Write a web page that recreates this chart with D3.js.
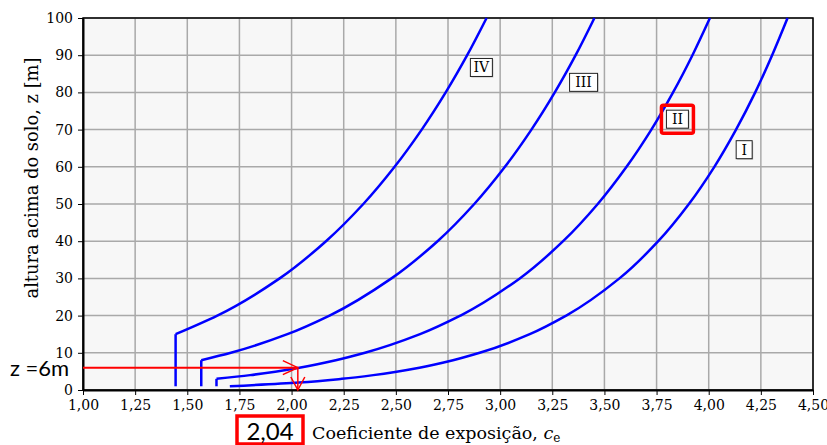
<!DOCTYPE html>
<html>
<head>
<meta charset="utf-8">
<script src="https://cdn.jsdelivr.net/npm/d3@7"></script>
<style>
  body { margin: 0; background: #fff; }
  .axis text { font-family: "DejaVu Serif", serif; font-size: 14px; fill: #000; }
  .axis path, .axis line { stroke: #000; }
</style>
</head>
<body>
<div id="painting"></div>
<script>
// terrain categories and curves (z in m, ce)
var catNames = ["I", "II", "III", "IV"];
var zI   = [1, 2, 3, 4, 6, 8, 10, 15, 20, 30, 40, 50, 60, 70, 80, 90, 100];
var ceI  = [1.704, 2.036, 2.241, 2.392, 2.613, 2.774, 2.902, 3.142, 3.317, 3.572, 3.758, 3.905, 4.027, 4.131, 4.223, 4.304, 4.378];
var zII  = [3, 4, 6, 8, 10, 15, 20, 30, 40, 50, 60, 70, 80, 90, 100];
var ceII = [1.640, 1.801, 2.037, 2.212, 2.352, 2.616, 2.810, 3.094, 3.302, 3.468, 3.606, 3.725, 3.829, 3.922, 4.006];
var zIII  = [8, 10, 15, 20, 30, 40, 50, 60, 70, 80, 90, 100];
var ceIII = [1.567, 1.709, 1.980, 2.182, 2.479, 2.700, 2.876, 3.023, 3.150, 3.262, 3.362, 3.452];
var zIV  = [15, 20, 30, 40, 50, 60, 70, 80, 90, 100];
var ceIV = [1.444, 1.644, 1.943, 2.165, 2.344, 2.494, 2.624, 2.739, 2.842, 2.935];
var zGround = 1;

// label boxes (data units)
var labelCe = [4.17, 3.85, 3.40, 2.91];
var labelZ  = [64.6, 72.8, 82.7, 86.7];
var highlighted = "II";

// the worked example
var annotZ = 6;
var annotCe = 2.03;
var annotZText = "z =6m";
var annotCeText = "2,04";

var xTicks = [1.00, 1.25, 1.50, 1.75, 2.00, 2.25, 2.50, 2.75, 3.00, 3.25, 3.50, 3.75, 4.00, 4.25, 4.50];
var yTicks = [0, 10, 20, 30, 40, 50, 60, 70, 80, 90, 100];

var W = 827, H = 445;
var margin = {top: 18, right: 14, bottom: 55, left: 83};
var w = W - margin.left - margin.right;
var h = H - margin.top - margin.bottom;

var svg = d3.select("#painting").append("svg")
  .attr("width", W).attr("height", H);

var g = svg.append("g")
  .attr("transform", "translate(" + margin.left + "," + margin.top + ")");

var x = d3.scaleLinear().domain([1, 4.5]).range([0, w]);
var y = d3.scaleLinear().domain([0, 100]).range([h, 0]);

g.append("rect").attr("width", w).attr("height", h).attr("fill", "#f7f7f7");

// grid
g.append("g").selectAll("line").data(xTicks).enter().append("line")
  .attr("x1", function(d) { return x(d); }).attr("x2", function(d) { return x(d); })
  .attr("y1", 0).attr("y2", h)
  .attr("stroke", "#a9a9a9").attr("stroke-width", 1.5);
g.append("g").selectAll("line").data(yTicks).enter().append("line")
  .attr("y1", function(d) { return y(d); }).attr("y2", function(d) { return y(d); })
  .attr("x1", 0).attr("x2", w)
  .attr("stroke", "#a9a9a9").attr("stroke-width", 1.5);

// frame top/right
g.append("rect").attr("width", w).attr("height", h)
  .attr("fill", "none").attr("stroke", "#000").attr("stroke-width", 1.5);

var fmt = function(d) { return d3.format(".2f")(d).replace(".", ","); };

g.append("g").attr("class", "axis")
  .attr("transform", "translate(0," + h + ")")
  .call(d3.axisBottom(x).tickValues(xTicks).tickFormat(fmt).tickSize(5).tickPadding(5).tickSizeOuter(0))
  .call(function(a) { a.select(".domain").attr("stroke-width", 2); });

g.append("g").attr("class", "axis")
  .call(d3.axisLeft(y).tickValues(yTicks).tickSize(5).tickPadding(5).tickSizeOuter(0))
  .call(function(a) { a.select(".domain").attr("stroke-width", 2); });

// curves
var curves = [
  {name: "I", z: zI, ce: ceI},
  {name: "II", z: zII, ce: ceII},
  {name: "III", z: zIII, ce: ceIII},
  {name: "IV", z: zIV, ce: ceIV}
];

var straight = d3.line().x(function(d) { return x(d[0]); }).y(function(d) { return y(d[1]); });
var smooth = d3.line().x(function(d) { return x(d[0]); }).y(function(d) { return y(d[1]); })
  .curve(d3.curveMonotoneY);

curves.forEach(function(c) {
  var pts = c.z.map(function(z, i) { return [c.ce[i], z]; });
  if (c.z[0] > zGround) {
    g.append("path")
      .attr("d", straight([[c.ce[0], zGround], [c.ce[0], c.z[0]]]))
      .attr("fill", "none").attr("stroke", "#0000ff").attr("stroke-width", 2.5);
  }
  g.append("path")
    .attr("d", smooth(pts))
    .attr("fill", "none").attr("stroke", "#0000ff").attr("stroke-width", 2.5)
    .attr("stroke-linejoin", "round");
});

// category labels
catNames.forEach(function(name, i) {
  var cx = x(labelCe[i]), cy = y(labelZ[i]);
  var bw = name.length * 6 + 10, bh = 18;
  if (name === highlighted) {
    g.append("rect")
      .attr("x", cx - bw / 2 - 5).attr("y", cy - bh / 2 - 5)
      .attr("width", bw + 10).attr("height", bh + 10)
      .attr("fill", "none").attr("stroke", "#ff0000").attr("stroke-width", 3.5).attr("rx", 2);
  }
  g.append("rect")
    .attr("x", cx - bw / 2 + 1).attr("y", cy - bh / 2 + 1)
    .attr("width", bw).attr("height", bh)
    .attr("fill", "#bbb");
  g.append("rect")
    .attr("x", cx - bw / 2).attr("y", cy - bh / 2)
    .attr("width", bw).attr("height", bh)
    .attr("fill", "#fff").attr("stroke", "#222").attr("stroke-width", 1);
  g.append("text")
    .attr("x", cx).attr("y", cy + 5)
    .attr("text-anchor", "middle")
    .style("font-family", "DejaVu Serif, serif").style("font-size", "14px")
    .text(name);
});

// worked example arrows
var red = "#ff0000";
var ax = x(annotCe), ay = y(annotZ);
g.append("line").attr("x1", 0).attr("x2", ax).attr("y1", ay).attr("y2", ay)
  .attr("stroke", red).attr("stroke-width", 2);
g.append("path").attr("d", "M" + (ax - 15) + "," + (ay - 7) + "L" + ax + "," + ay + "L" + (ax - 15) + "," + (ay + 7))
  .attr("fill", "none").attr("stroke", red).attr("stroke-width", 1.5);
g.append("line").attr("x1", ax).attr("x2", ax).attr("y1", ay).attr("y2", h)
  .attr("stroke", red).attr("stroke-width", 1.5);
g.append("path").attr("d", "M" + (ax - 7) + "," + (h - 13) + "L" + ax + "," + h + "L" + (ax + 7) + "," + (h - 13))
  .attr("fill", "none").attr("stroke", red).attr("stroke-width", 1.5);

svg.append("text")
  .attr("x", 10).attr("y", margin.top + ay + 8)
  .style("font-family", "Lato, sans-serif").style("font-size", "22px")
  .text(annotZText);

// x label with highlighted value
svg.append("rect").attr("x", 237).attr("y", 416).attr("width", 66).attr("height", 28)
  .attr("fill", "#fff").attr("stroke", red).attr("stroke-width", 3.5);
svg.append("text").attr("x", 270).attr("y", 440).attr("text-anchor", "middle")
  .style("font-family", "Lato, sans-serif").style("font-size", "24px")
  .text(annotCeText);

var xl = svg.append("text").attr("x", 312).attr("y", 439)
  .style("font-family", "DejaVu Serif, serif").style("font-size", "17.5px");
xl.append("tspan").text("Coeficiente de exposição, ");
xl.append("tspan").style("font-style", "italic").text("c");
xl.append("tspan").attr("dy", 3).style("font-size", "12px").text("e");

svg.append("text")
  .attr("transform", "translate(38,178) rotate(-90)")
  .attr("text-anchor", "middle")
  .attr("textLength", 241).attr("lengthAdjust", "spacingAndGlyphs")
  .style("font-family", "DejaVu Serif, serif").style("font-size", "18px")
  .text("altura acima do solo, z [m]");
</script>
</body>
</html>
